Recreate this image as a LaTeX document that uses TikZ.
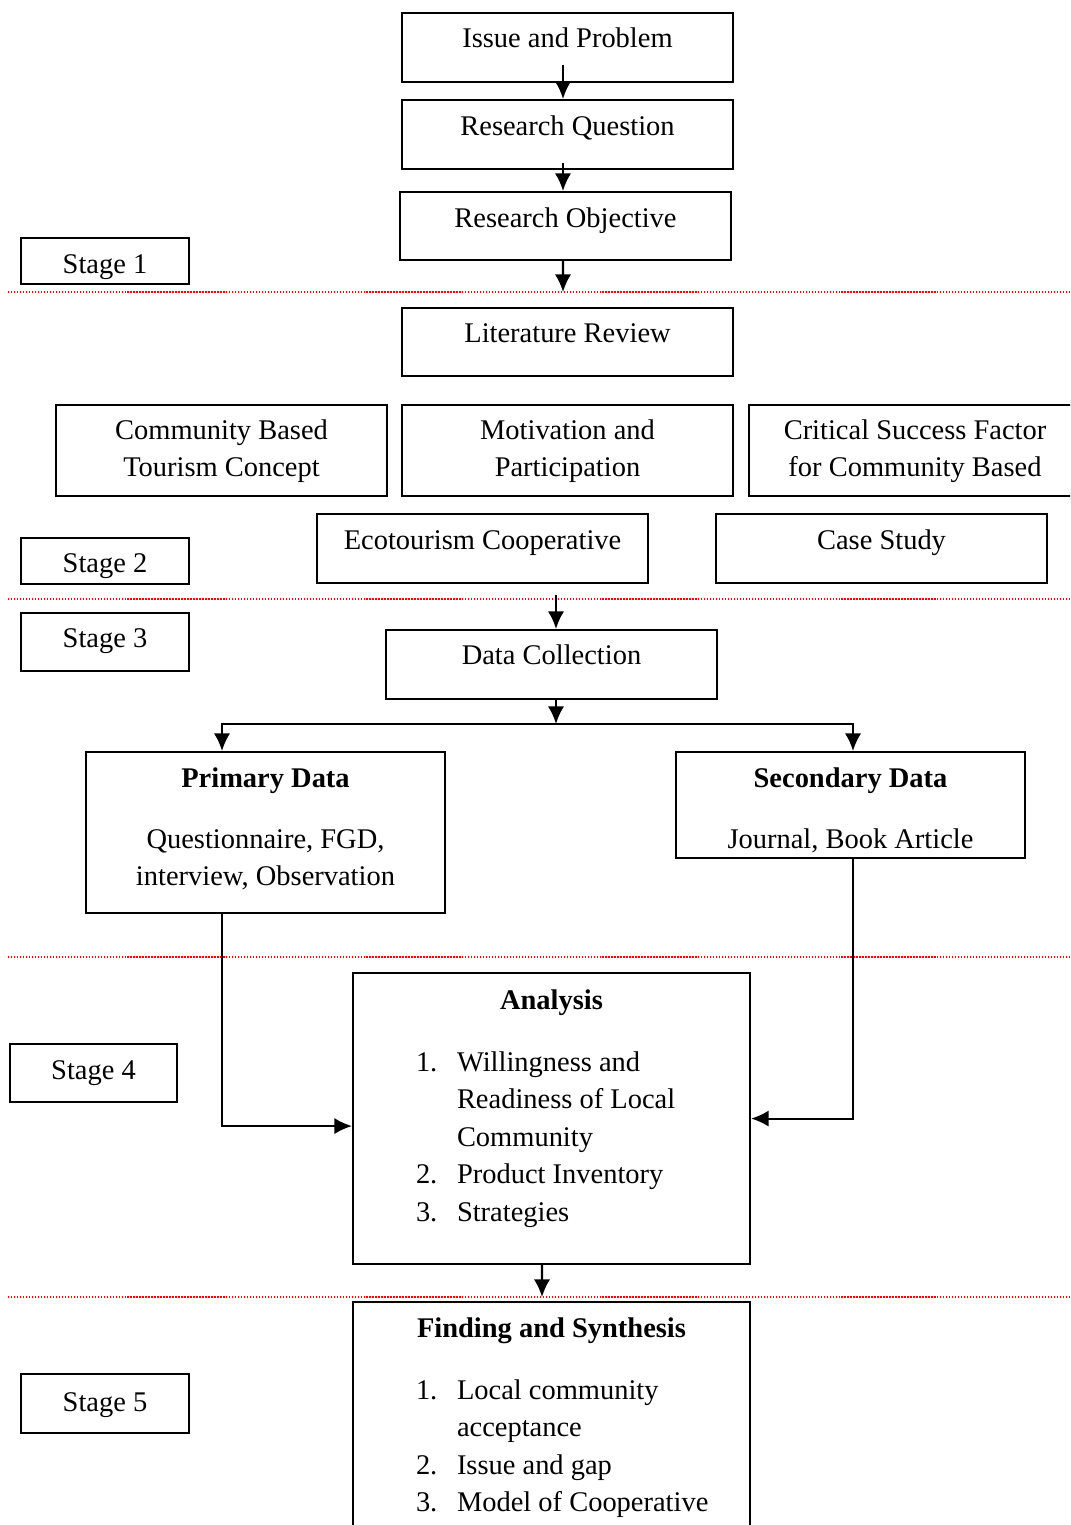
\documentclass[tikz,border=0pt]{standalone}
\usepackage{fontspec}
\setmainfont{Liberation Serif}
\usetikzlibrary{
  arrows.meta,
  positioning}
\newcommand{\litem}[2]{\makebox[2.71cm][l]{\makebox[0.41cm][l]{#1}#2}}
\newcommand{\boxrows}[1]{\begin{tabular}[t]{@{}c@{}}#1\end{tabular}}

\begin{document}
\begin{tikzpicture}[
  >={Latex[length=5pt,width=4.6pt]},
  line width=0.6pt,
  every node/.style={font=\fontsize{8.1}{10.67}\selectfont},
  box/.style={draw,rectangle,anchor=north,inner sep=0pt,minimum width=3.31cm},
  stagebox/.style={box,minimum width=1.68cm},
  sepline/.style={red,line width=0.35pt,dash pattern=on 0.4pt off 0.45pt}
]%
  \clip (0,0) rectangle (10.70,-15.25);

  % stage separators
  \draw[sepline] (0.08,-2.92)  -- (10.70,-2.92);
  \draw[sepline] (0.08,-5.99)  -- (10.70,-5.99);
  \draw[sepline] (0.08,-9.57)  -- (10.70,-9.57);
  \draw[sepline] (0.08,-12.97) -- (10.70,-12.97);

  \coordinate (cut1)  at (5.63,-2.92);
  \coordinate (cut2)  at (5.56,-5.95);
  \coordinate (split) at (5.56,-7.24);
  \coordinate (cut4)  at (5.42,-12.97);

  % stage 1
  \node[box,text height=0.34cm,text depth=0.35cm] (iss) at (5.675,-0.12) {Issue and Problem};
  \node[box,text height=0.35cm,text depth=0.34cm] (rq)  at (5.675,-0.99) {Research Question};
  \node[box,text height=0.35cm,text depth=0.33cm] (ro)  at (5.655,-1.91) {Research Objective};
  \node[stagebox,text height=0.35cm,text depth=0.11cm] (st1) at (1.05,-2.37) {Stage 1};

  % stage 2
  \node[box,text height=0.34cm,text depth=0.34cm] (lit) at (5.675,-3.07) {Literature Review};
  \node[box,text height=0.34cm,text depth=0.57cm] (cbt) at (2.215,-4.04)
    {\boxrows{Community Based\\ Tourism Concept}};
  \node[box,text height=0.34cm,text depth=0.57cm] (mot) at (5.675,-4.04)
    {\boxrows{Motivation and\\ Participation}};
  \node[box,minimum width=3.32cm,text height=0.34cm,text depth=0.57cm] (csf) at (9.15,-4.04)
    {\boxrows{Critical Success Factor\\ for Community Based}};
  \node[box,text height=0.35cm,text depth=0.34cm] (eco)  at (4.825,-5.13) {Ecotourism Cooperative};
  \node[box,text height=0.35cm,text depth=0.34cm] (case) at (8.815,-5.13) {Case Study};
  \node[stagebox,text height=0.34cm,text depth=0.12cm] (st2) at (1.05,-5.37) {Stage 2};

  % stage 3
  \node[stagebox,text height=0.34cm,text depth=0.24cm] (st3) at (1.05,-6.12) {Stage 3};
  \node[box,text height=0.34cm,text depth=0.35cm] (dc) at (5.515,-6.29) {Data Collection};
  \node[box,minimum width=3.59cm,text height=0.35cm,text depth=1.26cm] (prim) at (2.655,-7.51)
    {\boxrows{\textbf{Primary Data}\\[0.235cm] Questionnaire, FGD,\\ interview, Observation}};
  \node[box,minimum width=3.49cm,text height=0.35cm,text depth=0.71cm] (sec) at (8.505,-7.51)
    {\boxrows{\textbf{Secondary Data}\\[0.235cm] Journal, Book Article}};

  % stage 4
  \node[stagebox,minimum width=1.67cm,text height=0.35cm,text depth=0.23cm] (st4) at (0.935,-10.43) {Stage 4};
  \node[box,minimum width=3.97cm,text height=0.36cm,text depth=2.55cm] (ana) at (5.515,-9.72)
    {\boxrows{\textbf{Analysis}\\[0.245cm]
      \litem{1.}{Willingness and}\\
      \litem{}{Readiness of Local}\\
      \litem{}{Community}\\
      \litem{2.}{Product Inventory}\\
      \litem{3.}{Strategies}}};

  % stage 5
  \node[stagebox,text height=0.37cm,text depth=0.22cm] (st5) at (1.05,-13.73) {Stage 5};
  \node[box,minimum width=3.97cm,text height=0.35cm,text depth=2.6cm] (fin) at (5.515,-13.01)
    {\boxrows{\textbf{Finding and Synthesis}\\[0.245cm]
      \litem{1.}{Local community}\\
      \litem{}{acceptance}\\
      \litem{2.}{Issue and gap}\\
      \litem{3.}{Model of Cooperative}}};

  % connectors
  \draw[->] ([xshift=-0.045cm,yshift=0.18cm]iss.south) -- ([xshift=-0.045cm]rq.north);
  \draw[->] ([xshift=-0.045cm,yshift=0.07cm]rq.south) -- ([xshift=-0.025cm]ro.north);
  \draw[->] ([xshift=-0.025cm]ro.south) -- (cut1);
  \draw[->] (cut2) -- ([xshift=0.045cm]dc.north);
  \draw[->] ([xshift=0.045cm]dc.south) -- (split);
  \draw[->] (split) -| ([xshift=-0.435cm]prim.north);
  \draw[->] (split) -| ([xshift=0.025cm]sec.north);
  \draw[->] ([xshift=-0.435cm]prim.south) |- ([yshift=-0.075cm]ana.west);
  \draw[->] ([xshift=0.025cm]sec.south) |- (ana.east);
  \draw[->] ([xshift=-0.095cm]ana.south) -- (cut4);

\end{tikzpicture}
\end{document}
